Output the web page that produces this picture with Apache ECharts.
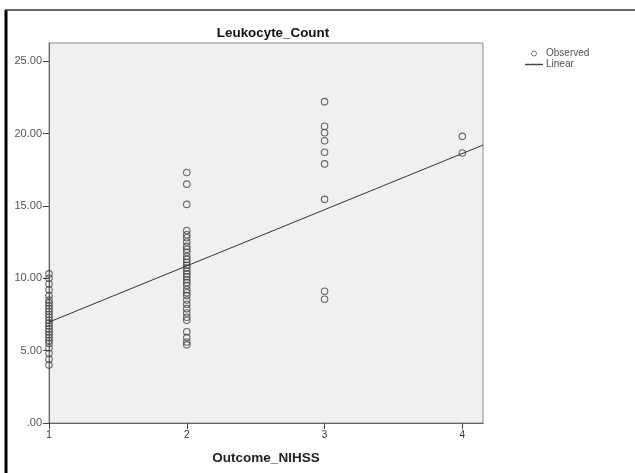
<!DOCTYPE html>
<html>
<head>
<meta charset="utf-8">
<script src="https://cdn.jsdelivr.net/npm/echarts@6/dist/echarts.min.js"></script>
<style>html,body{margin:0;padding:0;background:#fff}#c{width:635px;height:473px}</style>
</head>
<body>
<div id="c"></div>
<script>
var chartTitle = 'Leukocyte_Count';
var xAxisTitle = 'Outcome_NIHSS';
var xTicks = [1, 2, 3, 4];
var yTicks = [0, 5, 10, 15, 20, 25];
var group1 = [10.3, 10.0, 9.6, 9.2, 8.8, 8.5, 8.3, 8.1, 7.9, 7.7, 7.5, 7.3, 7.1, 6.9, 6.7, 6.5, 6.3, 6.1, 5.9, 5.7, 5.5, 5.2, 4.8, 4.4, 4.0];
var group2 = [17.3, 16.5, 15.1, 13.3, 13.0, 12.8, 12.5, 12.2, 12.0, 11.8, 11.5, 11.3, 11.1, 10.9, 10.7, 10.5, 10.3, 10.1, 9.9, 9.7, 9.5, 9.2, 9.0, 8.8, 8.5, 8.2, 7.9, 7.6, 7.3, 7.1, 6.3, 5.9, 5.6, 5.4];
var group3 = [22.2, 20.5, 20.05, 19.5, 18.7, 17.9, 15.45, 9.1, 8.55];
var group4 = [19.8, 18.65];
var fitX = [1, 4.15];
var fitY = [6.97, 19.2];

var observed = [];
[[1, group1], [2, group2], [3, group3], [4, group4]].forEach(function (g) {
  g[1].forEach(function (v) { observed.push([g[0], v]); });
});
var fitLine = fitX.map(function (x, i) { return [x, fitY[i]]; });

var FONT = 'Liberation Sans, Arial, sans-serif';
var chart = echarts.init(document.getElementById('c'));
chart.setOption({
  animation: false,
  backgroundColor: '#fff',
  textStyle: { fontFamily: FONT },
  title: {
    text: chartTitle, left: 268, top: 22, textAlign: 'center',
    textStyle: { fontSize: 13.4, fontWeight: 'bold', color: '#111', fontFamily: FONT }
  },
  legend: {
    orient: 'vertical', left: 525, top: 48, itemWidth: 18, itemHeight: 5, itemGap: 0,
    padding: 0,
    textStyle: { fontSize: 10, color: '#555', lineHeight: 11, padding: [0, 0, 0, -2] },
    data: [
      { name: 'Observed', icon: 'circle', itemStyle: { color: '#fff', borderColor: '#555', borderWidth: 1 } },
      { name: 'Linear', icon: 'path://M0,0L18,0L18,1.4L0,1.4Z', itemStyle: { color: '#444', borderWidth: 0 } }
    ]
  },
  grid: {
    left: 49, top: 43, right: 152, bottom: 50, show: true,
    backgroundColor: '#f0f0f0', borderColor: '#8c8c8c', borderWidth: 1
  },
  xAxis: {
    type: 'value', min: 1, max: 4.15, interval: 1,
    axisLine: { show: true, lineStyle: { color: '#666' } },
    axisTick: { show: true, length: 6, customValues: xTicks, lineStyle: { color: '#444' } },
    splitLine: { show: false },
    axisLabel: {
      fontSize: 10, color: '#333', margin: 7, customValues: xTicks,
      formatter: function (v) { return String(v); }
    }
  },
  yAxis: {
    type: 'value', min: 0, max: 26.25, interval: 5,
    axisLine: { show: true, lineStyle: { color: '#666' } },
    axisTick: { show: true, length: 6, customValues: yTicks, lineStyle: { color: '#444' } },
    splitLine: { show: false },
    axisLabel: {
      fontSize: 11, color: '#555', margin: 7, customValues: yTicks,
      formatter: function (v) { return v === 0 ? '.00' : v.toFixed(2); }
    }
  },
  graphic: [
    { type: 'line', shape: { x1: 6, y1: 10, x2: 6, y2: 473 }, style: { stroke: '#000', lineWidth: 3 } },
    { type: 'line', shape: { x1: 5, y1: 10, x2: 635, y2: 10 }, style: { stroke: '#333', lineWidth: 1.5 } },
    { type: 'text', x: 266, y: 458, style: { text: xAxisTitle, align: 'center', verticalAlign: 'middle', fontSize: 13.5, fontWeight: 'bold', fill: '#222', fontFamily: FONT } }
  ],
  series: [
    {
      name: 'Observed', type: 'scatter', data: observed, clip: false,
      symbol: 'circle', symbolSize: 6.5,
      itemStyle: { color: 'rgba(0,0,0,0)', borderColor: '#444', borderWidth: 1.1 }
    },
    {
      name: 'Linear', type: 'line', data: fitLine, symbol: 'none',
      lineStyle: { color: '#333', width: 1 }, itemStyle: { color: '#333' }
    }
  ]
});
</script>
</body>
</html>
